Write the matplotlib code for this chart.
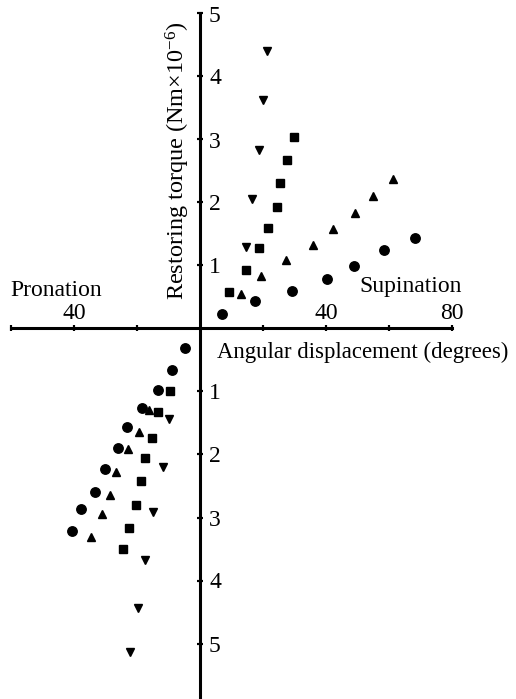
import matplotlib
matplotlib.use("Agg")
import matplotlib.pyplot as plt

plt.rcParams['font.family'] = ['Liberation Serif', 'DejaVu Serif']
plt.rcParams['mathtext.fontset'] = 'custom'
plt.rcParams['mathtext.rm'] = 'Liberation Serif'
plt.rcParams['mathtext.it'] = 'Liberation Serif:italic'

# Supination (positive angles, positive torque)
sup_circle_x = [6.9, 17.6, 29.3, 40.4, 48.8, 58.3, 68.4]
sup_circle_y = [0.23, 0.44, 0.60, 0.79, 0.99, 1.24, 1.44]
sup_triup_x = [13.0, 19.5, 27.3, 35.8, 42.3, 49.3, 55.0, 61.2]
sup_triup_y = [0.55, 0.84, 1.09, 1.32, 1.58, 1.84, 2.11, 2.37]
sup_square_x = [9.3, 14.6, 18.6, 21.7, 24.3, 25.4, 27.6, 29.9]
sup_square_y = [0.58, 0.93, 1.28, 1.59, 1.93, 2.31, 2.67, 3.04]
sup_tridown_x = [14.6, 16.5, 18.7, 19.9, 21.2]
sup_tridown_y = [1.30, 2.06, 2.83, 3.63, 4.41]

# Pronation (negative angles, negative torque)
pro_circle_x = [-4.8, -8.9, -13.4, -18.4, -23.2, -26.1, -30.2, -33.3, -37.8, -40.7]
pro_circle_y = [-0.31, -0.66, -0.98, -1.26, -1.56, -1.89, -2.23, -2.59, -2.87, -3.21]
pro_triup_x = [-16.2, -19.3, -22.9, -26.7, -28.6, -31.1, -34.5]
pro_triup_y = [-1.30, -1.65, -1.92, -2.27, -2.65, -2.95, -3.31]
pro_square_x = [-9.5, -13.3, -15.3, -17.4, -18.7, -20.3, -22.4, -24.4]
pro_square_y = [-0.99, -1.32, -1.74, -2.06, -2.42, -2.80, -3.16, -3.50]
pro_tridown_x = [-9.9, -11.6, -15.0, -17.4, -19.6, -22.1]
pro_tridown_y = [-1.43, -2.20, -2.91, -3.68, -4.43, -5.13]

x_ticks = [-60, -40, -20, 20, 40, 60, 80]
x_labels = ['', '40', '', '', '40', '', '80']
y_ticks = [-5, -4, -3, -2, -1, 1, 2, 3, 4, 5]
y_labels = ['5', '4', '3', '2', '1', '1', '2', '3', '4', '5']

W, H = 516, 699
fig = plt.figure(figsize=(W / 100, H / 100), dpi=100)
ax = fig.add_axes([0, 0, 1, 1])
px_per_deg = 3.15
px_per_unit = 63.0
ox, oy = 200, 328.5
ax.set_xlim(-ox / px_per_deg, (W - ox) / px_per_deg)
ax.set_ylim(-(H - oy) / px_per_unit, oy / px_per_unit)

ms = dict(color='black', linestyle='none')
for xs, ys, m, s in [
    (sup_circle_x, sup_circle_y, 'o', 6.8), (pro_circle_x, pro_circle_y, 'o', 6.8),
    (sup_triup_x, sup_triup_y, '^', 6.2), (pro_triup_x, pro_triup_y, '^', 6.2),
    (sup_square_x, sup_square_y, 's', 5.8), (pro_square_x, pro_square_y, 's', 5.8),
    (sup_tridown_x, sup_tridown_y, 'v', 6.2), (pro_tridown_x, pro_tridown_y, 'v', 6.2),
]:
    ax.plot(xs, ys, marker=m, markersize=s, **ms)

for side in ['left', 'right', 'bottom', 'top']:
    ax.spines[side].set_position(('data', 0))
    ax.spines[side].set_linewidth(2.2)
ax.spines['right'].set_visible(False)
ax.spines['top'].set_visible(False)
ax.spines['left'].set_bounds(-(H - oy) / px_per_unit, 5)
ax.spines['bottom'].set_bounds(-60, 80)

ax.set_xticks(x_ticks)
ax.set_xticklabels(x_labels)
ax.set_yticks(y_ticks)
ax.set_yticklabels(y_labels)
ax.xaxis.set_ticks_position('both')
ax.yaxis.set_ticks_position('both')
ax.tick_params(axis='x', direction='inout', length=5, width=1.5, labelbottom=False,
               labeltop=True, labelsize=17, pad=1)
ax.tick_params(axis='y', direction='inout', length=5, width=1.5, labelleft=False,
               labelright=True, labelsize=17, pad=4)

fs = 17
ax.text(10 / px_per_deg - ox / px_per_deg, (oy - 291) / px_per_unit, 'Pronation',
        fontsize=fs, ha='left', va='center')
ax.text((411 - ox) / px_per_deg, (oy - 287) / px_per_unit, 'Supination',
        fontsize=fs, ha='center', va='center')
ax.text((217 - ox) / px_per_deg, (oy - 352) / px_per_unit, 'Angular displacement (degrees)',
        fontsize=16.4, ha='left', va='center')
ax.text((178 - ox) / px_per_deg, (oy - 161) / px_per_unit,
        r'Restoring torque (Nm$\times$10$^{-6}$)',
        fontsize=fs + 0.5, ha='center', va='center', rotation=90)

fig.savefig('out.png', dpi=100)
